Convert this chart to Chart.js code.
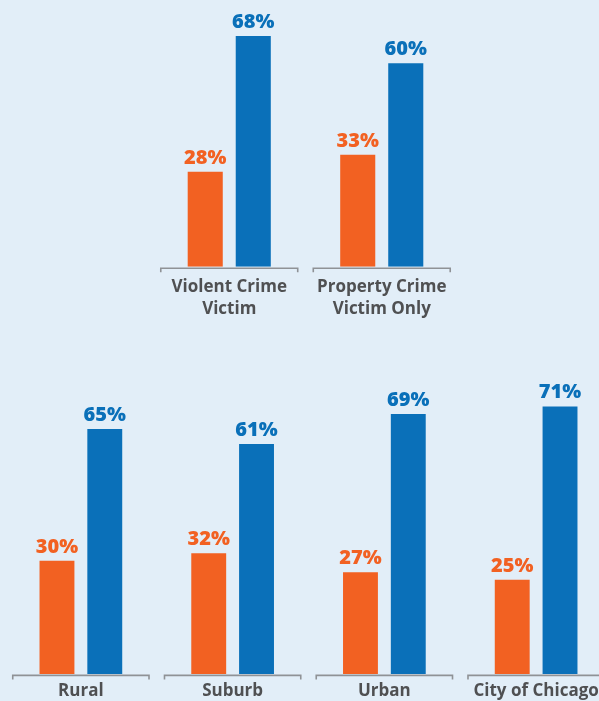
<!DOCTYPE html>
<html>
<head>
<meta charset="utf-8">
<script src="https://cdn.jsdelivr.net/npm/chart.js@4.4.1/dist/chart.umd.min.js"></script>
<style>
    html, body { margin: 0; padding: 0; background: #e2eef8; overflow: hidden; }
    #page { position: relative; width: 599px; height: 701px; overflow: hidden; background: #e2eef8; }
    #topWrap { position: absolute; left: 153px; top: 0; width: 305px; height: 329px; }
    #bottomWrap { position: absolute; left: 5px; top: 380px; width: 607px; height: 328px; }
</style>
</head>
<body>
<div id="page">
    <div id="topWrap"><canvas id="victimChart"></canvas></div>
    <div id="bottomWrap"><canvas id="areaChart"></canvas></div>
</div>
<script>
    // Datos
    const victimLabels = [["Violent Crime", "Victim"], ["Property Crime", "Victim Only"]];
    const victimOrange = [28, 33];
    const victimBlue = [68, 60];

    const areaLabels = ["Rural", "Suburb", "Urban", "City of Chicago"];
    const areaOrange = [30, 32, 27, 25];
    const areaBlue = [65, 61, 69, 71];

    const ORANGE = "#f26122";
    const BLUE = "#0a70b9";
    const LABEL_GRAY = "#4f5052";
    const AXIS_GRAY = "#8f9296";
    const FONT = "'Open Sans', sans-serif";

    // etiquetas de porcentaje encima de cada barra
    const valueLabels = {
        id: "valueLabels",
        afterDatasetsDraw(chart) {
            const ctx = chart.ctx;
            ctx.save();
            ctx.font = "800 20px " + FONT;
            ctx.textAlign = "center";
            ctx.textBaseline = "alphabetic";
            chart.data.datasets.forEach((ds, di) => {
                chart.getDatasetMeta(di).data.forEach((bar, i) => {
                    ctx.fillStyle = ds.backgroundColor;
                    ctx.fillText(ds.data[i] + "%", bar.x, bar.y - 8);
                });
            });
            ctx.restore();
        }
    };

    // línea base cortada por categoría, con pequeñas marcas en los extremos
    const segmentAxis = {
        id: "segmentAxis",
        beforeDatasetsDraw(chart) {
            const ctx = chart.ctx;
            const x = chart.scales.x;
            const y = chart.chartArea.bottom + 1.5;
            const half = (x.width / chart.data.labels.length) * 0.449;
            ctx.save();
            ctx.strokeStyle = AXIS_GRAY;
            ctx.lineWidth = 1.6;
            chart.data.labels.forEach((_, i) => {
                const cx = x.getPixelForValue(i);
                ctx.beginPath();
                ctx.moveTo(cx - half, y + 4);
                ctx.lineTo(cx - half, y);
                ctx.lineTo(cx + half, y);
                ctx.lineTo(cx + half, y + 4);
                ctx.stroke();
            });
            ctx.restore();
        }
    };

    function buildChart(canvasId, labels, orange, blue, yMax, tickPad) {
        return new Chart(document.getElementById(canvasId).getContext("2d"), {
            type: "bar",
            data: {
                labels: labels,
                datasets: [
                    { label: "A", data: orange, backgroundColor: ORANGE },
                    { label: "B", data: blue, backgroundColor: BLUE }
                ]
            },
            options: {
                responsive: true,
                maintainAspectRatio: false,
                animation: false,
                categoryPercentage: 0.63,
                barPercentage: 0.73,
                layout: { padding: 0 },
                plugins: { legend: { display: false }, tooltip: { enabled: false } },
                scales: {
                    x: {
                        grid: { display: false, drawTicks: false },
                        border: { display: false },
                        ticks: {
                            padding: tickPad,
                            color: LABEL_GRAY,
                            maxRotation: 0,
                            autoSkip: false,
                            font: { family: FONT, weight: "bold", size: 17, lineHeight: 1.3 }
                        }
                    },
                    y: { display: false, min: 0, max: yMax }
                }
            },
            plugins: [segmentAxis, valueLabels]
        });
    }

    buildChart("victimChart", victimLabels, victimOrange, victimBlue, 78.6, 9);
    buildChart("areaChart", areaLabels, areaOrange, areaBlue, 78, 6);
</script>
</body>
</html>
